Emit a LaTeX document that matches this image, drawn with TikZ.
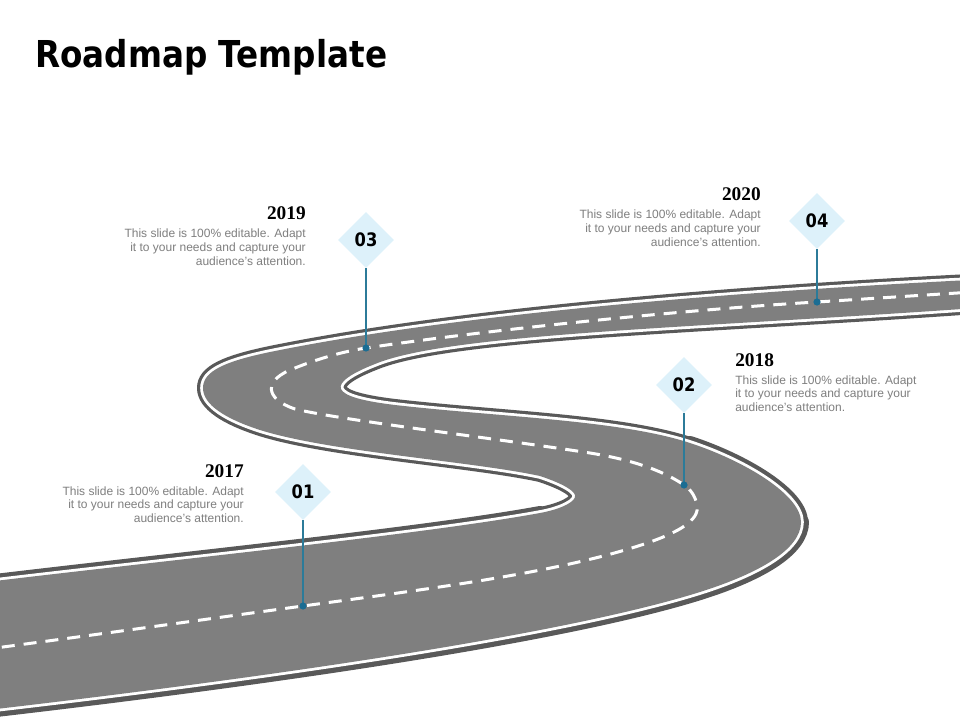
\documentclass[tikz,border=0pt]{standalone}
\usepackage{fontspec}
\setmainfont{Liberation Sans}
\newfontfamily\titlefont[FakeStretch=0.88]{DejaVu Sans}
\newfontfamily\yearfont{Liberation Serif}
\usetikzlibrary{shapes.geometric}
\definecolor{roadgray}{HTML}{7F7F7F}
\definecolor{roaddark}{HTML}{595959}
\definecolor{bodygray}{HTML}{7F7F7F}
\definecolor{diafill}{HTML}{DDF1FA}
\definecolor{conncol}{HTML}{2C7B99}
\definecolor{dotcol}{HTML}{1B6D93}
\tikzset{
  numdia/.style={shape=diamond, fill=diafill, minimum width=42pt, minimum height=42pt, inner sep=0pt,
    font=\titlefont\bfseries\fontsize{13.9pt}{14pt}\selectfont},
  conn/.style={draw=conncol, line width=0.9pt},
  yeartext/.style={font=\yearfont\bfseries\fontsize{14.5pt}{14.5pt}\selectfont, inner sep=0pt, text=black},
  bodytext/.style={font=\fontsize{9pt}{10pt}\selectfont, text=bodygray, inner sep=0pt},
  centerdash/.style={draw=white, line width=2.25pt, dash pattern=on 9.75pt off 6.75pt},
  edgedark/.style={draw=roaddark, line join=round, line cap=round},
}
\newcommand\infoblock[5]{%
  \node[yeartext, anchor=base #5] (#1y) at (#2,#3) {#4};
  \node[bodytext, anchor=base #5] (#1a) at (#2,#3+18) {This slide is 100\% editable. Adapt};
  \node[bodytext, anchor=base #5] (#1b) at (#2,#3+31.7) {it to your needs and capture your};
  \node[bodytext, anchor=base #5] (#1c) at (#2,#3+45.4) {audience's attention.};
}
\begin{document}
\begin{tikzpicture}[x=0.75pt,y=-0.75pt]
\useasboundingbox (0,0) rectangle (960,720);
\fill[white] (0,0) rectangle (960,720);
\begin{scope}
\clip (0,0) rectangle (960,720);
% road outline (boundary of the asphalt)
\path[save path=\roadR]
  (-30,584) .. controls (150,562) and (420,535) .. (540,513)
  .. controls (562,509) and (577,501) .. (575,495)
  .. controls (573,489) and (558,482) .. (540,476)
  .. controls (470,461) and (330,452) .. (260,430)
  .. controls (226,419) and (203,405) .. (203,388)
  .. controls (203,371) and (225,361) .. (275,351)
  .. controls (360,334) and (560,300) .. (990,279)
  -- (990,307)
  .. controls (700,328) and (450,333) .. (375,364)
  .. controls (352,373) and (338,382) .. (341,389)
  .. controls (344,396) and (362,401) .. (395,405)
  .. controls (500,417) and (620,420) .. (690,443)
  .. controls (745,461) and (801,495) .. (801,522)
  .. controls (801,549) and (760,573) .. (700,592)
  .. controls (560,636) and (250,680) .. (-30,712)
  -- cycle;
\path[save path=\lowA] (-30,584) .. controls (150,562) and (420,535) .. (540,513);
\path[save path=\lowBa] (690,443) .. controls (745,461) and (801,495) .. (801,522)
  .. controls (801,549) and (760,573) .. (700,592)
  .. controls (560,636) and (250,680) .. (-30,712);
\path[save path=\lowBb] (801,522) .. controls (801,549) and (760,573) .. (700,592)
  .. controls (560,636) and (250,680) .. (-30,712);
\draw[edgedark, line width=9pt, use path=\roadR];
\draw[edgedark, line width=10.5pt, use path=\lowA];
\draw[edgedark, line width=10.5pt, use path=\lowBa];
\draw[edgedark, line width=12pt, use path=\lowBb];
\draw[white, line width=4.2pt, line join=round, use path=\roadR];
\fill[roadgray, use path=\roadR];
% centre line
\coordinate (p1) at (303,606);
\coordinate (p2) at (684,485);
\coordinate (p3) at (366,348);
\coordinate (p4) at (817,302);
\draw[centerdash]
  (-20,650) .. controls (80,637) and (200,620) .. (p1)
  .. controls (420,590) and (540,575) .. (625,550)
  .. controls (680,534) and (700,520) .. (697,505)
  .. controls (695,495) and (690,489) .. (p2)
  .. controls (668,474) and (640,461) .. (590,453)
  .. controls (500,439) and (340,420) .. (295,409)
  .. controls (265,399) and (262,380) .. (295,368)
  .. controls (315,360) and (340,352) .. (p3)
  .. controls (480,331) and (680,310) .. (p4)
  .. controls (880,298) and (940,294) .. (990,291);
\end{scope}
\node[anchor=base west, inner sep=0pt, font=\titlefont\bfseries\fontsize{27.8pt}{30pt}\selectfont] (title) at (35,68) {Roadmap Template};
\node[numdia] (d1) at (303,492) {01};
\node[numdia] (d2) at (684,385) {02};
\node[numdia] (d3) at (366,240) {03};
\node[numdia] (d4) at (817,221) {04};
\foreach \i in {1,2,3,4}{
  \draw[conn] (d\i.south) -- (p\i);
  \fill[dotcol] (p\i) circle[radius=2.7pt];
}
\infoblock{b1}{244}{477}{2017}{east}
\infoblock{b3}{306}{220}{2019}{east}
\infoblock{b4}{761}{201}{2020}{east}
\infoblock{b2}{735}{366}{2018}{west}
\end{tikzpicture}
\end{document}
